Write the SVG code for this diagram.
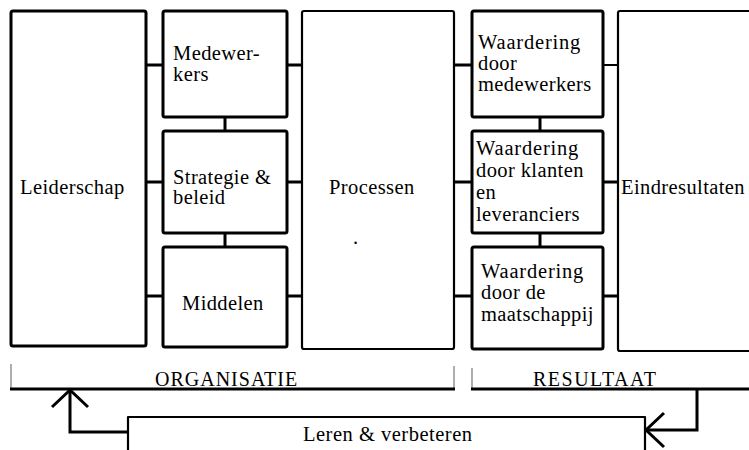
<svg xmlns="http://www.w3.org/2000/svg" width="749" height="450" viewBox="0 0 749 450">
<style>
.txt text{font-size:20.5px;fill:#000;letter-spacing:0.4px}
.b{fill:#fff;stroke:#000;stroke-width:3;stroke-linejoin:round}
.t{fill:#fff;stroke:#000;stroke-width:2.2;stroke-linejoin:round}
.c{stroke:#000;stroke-width:3;fill:none}
.c2{stroke:#000;stroke-width:2;fill:none}
.tick{stroke:#777;stroke-width:1.2;fill:none}
.txt text.cap{font-size:20px;letter-spacing:1px}
.txt text.w{letter-spacing:0.8px}
</style>
<rect width="749" height="450" fill="#fff"/>
<g id="connectors">
<line class="c" x1="146" y1="65" x2="163" y2="65"/>
<line class="c" x1="146" y1="182" x2="163" y2="182"/>
<line class="c" x1="146" y1="296" x2="163" y2="296"/>
<line class="c" x1="287" y1="65" x2="302" y2="65"/>
<line class="c" x1="287" y1="182" x2="302" y2="182"/>
<line class="c" x1="287" y1="296" x2="302" y2="296"/>
<line class="c" x1="225" y1="117" x2="225" y2="131"/>
<line class="c" x1="225" y1="233" x2="225" y2="247"/>
<line class="c" x1="454" y1="65" x2="472" y2="65"/>
<line class="c" x1="454" y1="182" x2="472" y2="182"/>
<line class="c" x1="454" y1="296" x2="472" y2="296"/>
<line class="c2" x1="603" y1="65" x2="618" y2="65"/>
<line class="c" x1="603" y1="182" x2="618" y2="182"/>
<line class="c" x1="603" y1="296" x2="618" y2="296"/>
<line class="c" x1="540" y1="117" x2="540" y2="131"/>
<line class="c" x1="540" y1="233" x2="540" y2="247"/>
<polyline class="c" points="128,432 70,432 70,390"/>
<polyline class="c" points="52,407 70,390 88,407"/>
<polyline class="c" points="697,389 697,430 646,430"/>
<polyline class="c" points="664,413 646,430 664,447"/>
</g>
<g class="txt" font-family="'Liberation Serif', 'Times New Roman', serif">
<g id="leiderschap"><rect class="b" x="11" y="11" width="135" height="335" rx="2"/><text x="20" y="194">Leiderschap</text></g>
<g id="medewerkers"><rect class="b" x="163" y="11" width="124" height="106" rx="2"/><text x="173" y="60">Medewer-</text><text x="173" y="81">kers</text></g>
<g id="strategie"><rect class="b" x="163" y="131" width="124" height="102" rx="2"/><text x="173" y="184">Strategie &amp;</text><text x="173" y="204">beleid</text></g>
<g id="middelen"><rect class="b" x="163" y="247" width="124" height="100" rx="2"/><text x="182" y="310">Middelen</text></g>
<g id="processen"><rect class="t" x="302" y="11" width="152" height="338" rx="2"/><text x="329" y="194">Processen</text><text x="353" y="244" font-size="12">.</text></g>
<g id="waardering-medewerkers"><rect class="b" x="472" y="11" width="131" height="106" rx="2"/><text class="w" x="478" y="49">Waardering</text><text x="478" y="70">door</text><text x="478" y="91">medewerkers</text></g>
<g id="waardering-klanten"><rect class="b" x="472" y="131" width="131" height="102" rx="2"/><text class="w" x="476" y="155">Waardering</text><text x="476" y="177">door klanten</text><text x="476" y="199">en</text><text x="476" y="221">leveranciers</text></g>
<g id="waardering-maatschappij"><rect class="b" x="472" y="247" width="131" height="102" rx="2"/><text class="w" x="481" y="278">Waardering</text><text x="481" y="299">door de</text><text x="481" y="321">maatschappij</text></g>
<g id="eindresultaten"><rect class="t" x="618" y="11" width="150" height="340" rx="2"/><text x="621" y="194">Eindresultaten</text></g>
<g id="organisatie">
<line class="tick" x1="11" y1="364" x2="11" y2="389"/>
<line class="tick" x1="454" y1="366" x2="454" y2="389"/>
<line class="c" x1="10" y1="389" x2="455" y2="389"/>
<text class="cap" x="155" y="386">ORGANISATIE</text>
</g>
<g id="resultaat">
<line class="tick" x1="472" y1="368" x2="472" y2="389"/>
<line class="c" x1="471" y1="389" x2="749" y2="389"/>
<text class="cap" x="533" y="386" style="letter-spacing:1.5px">RESULTAAT</text>
</g>
<g id="leren"><polyline class="t" points="128,452 128,417 645,417 645,452"/><text x="303" y="441" style="letter-spacing:0.5px">Leren &amp; verbeteren</text></g>
</g>
</svg>
